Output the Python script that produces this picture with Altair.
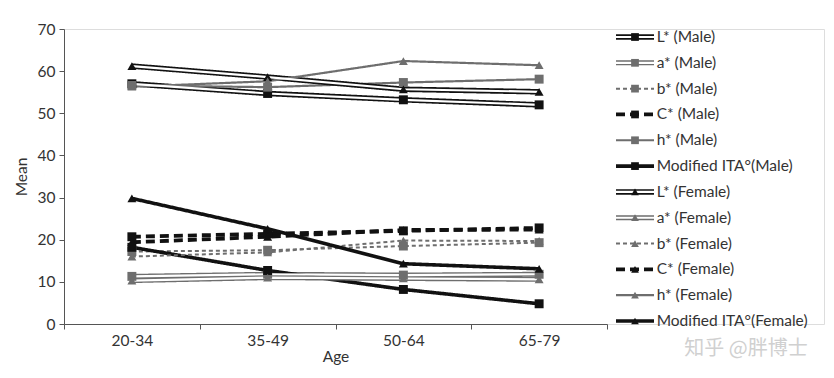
import altair as alt
import pandas as pd

ages = ["20-34", "35-49", "50-64", "65-79"]

series = ["L* (Male)", "a* (Male)", "b* (Male)", "C* (Male)", "h* (Male)", "Modified ITA°(Male)",
          "L* (Female)", "a* (Female)", "b* (Female)", "C* (Female)", "h* (Female)", "Modified ITA°(Female)"]
labels = ["L* (Male)", "a*  (Male)", "b* (Male)", "C* (Male)", "h* (Male)", "Modified ITA°(Male)",
          "L* (Female)", "a*  (Female)", "b* (Female)", "C* (Female)", "h* (Female)", "Modified ITA°(Female)"]

L_male = [57.0, 54.7, 53.2, 52.0]
a_male = [11.3, 11.8, 11.6, 11.8]
b_male = [17.2, 17.5, 18.5, 19.3]
C_male = [20.7, 21.4, 22.1, 22.8]
h_male = [56.6, 56.2, 57.3, 58.1]
ita_male = [18.2, 12.7, 8.2, 4.8]
L_female = [61.2, 58.6, 55.7, 55.1]
a_female = [10.3, 11.0, 10.8, 10.6]
b_female = [16.0, 17.0, 19.8, 19.7]
C_female = [19.4, 20.7, 22.3, 22.4]
h_female = [56.3, 57.6, 62.4, 61.4]
ita_female = [29.8, 22.6, 14.3, 13.1]

all_values = [L_male, a_male, b_male, C_male, h_male, ita_male,
              L_female, a_female, b_female, C_female, h_female, ita_female]

BLACK = "#111111"
GRAY = "#6e6e6e"
colors = [BLACK, GRAY, GRAY, BLACK, GRAY, BLACK] * 2
dashes = [[1, 0], [1, 0], [4, 3], [9, 5], [1, 0], [1, 0]] * 2
widths = [5.5, 5, 2, 3.8, 2.2, 3.6] * 2
shapes = ["square"] * 6 + ["triangle-up"] * 6
double_series = ["L* (Male)", "a* (Male)", "L* (Female)", "a* (Female)"]

rows = []
for s, vals in zip(series, all_values):
    for a, v in zip(ages, vals):
        rows.append({"series": s, "age": a, "value": v})
df = pd.DataFrame(rows)
leg = pd.DataFrame({"series": series, "label": labels})

FONT = "Lato"
TXT = "#333333"

color_sc = alt.Scale(type="ordinal", domain=series, range=colors)
dash_sc = alt.Scale(type="ordinal", domain=series, range=dashes)
width_sc = alt.Scale(type="ordinal", domain=series, range=widths)
shape_sc = alt.Scale(type="ordinal", domain=series, range=shapes)

PLOT_W = 543
xs = alt.Scale(domain=ages, range=[0, PLOT_W], paddingInner=0, paddingOuter=0)
ys = alt.Scale(domain=[0, 70], nice=False)

x_enc = alt.X("age:N", scale=xs, sort=ages,
              axis=alt.Axis(title="Age", tickBand="extent", labelAngle=0, grid=False,
                            labelFont=FONT, labelFontSize=15.5, labelColor=TXT, labelPadding=4,
                            titleFont=FONT, titleFontSize=15.5, titleFontWeight="normal",
                            titleColor=TXT, titlePadding=1, domainColor="#555555",
                            tickColor="#555555", tickSize=5))
y_enc = alt.Y("value:Q", scale=ys,
              axis=alt.Axis(title="Mean", values=list(range(0, 71, 10)), grid=False,
                            labelFont=FONT, labelFontSize=15.5, labelColor=TXT, labelPadding=4,
                            titleFont=FONT, titleFontSize=15.5, titleFontWeight="normal",
                            titleColor=TXT, titlePadding=8, domainColor="#555555",
                            tickColor="#555555", tickSize=5))

base = alt.Chart(df)
lines = base.mark_line().encode(
    x=x_enc, y=y_enc,
    color=alt.Color("series:N", scale=color_sc, legend=None),
    strokeDash=alt.StrokeDash("series:N", scale=dash_sc, legend=None),
    strokeWidth=alt.StrokeWidth("series:N", scale=width_sc, legend=None),
    detail="series:N",
)
inner = base.transform_filter(
    alt.FieldOneOfPredicate(field="series", oneOf=double_series)
).mark_line(color="white", strokeWidth=2.2).encode(x=x_enc, y=y_enc, detail="series:N")
points = base.mark_point(filled=True, opacity=1, size=80).encode(
    x=x_enc, y=y_enc,
    color=alt.Color("series:N", scale=color_sc, legend=None),
    shape=alt.Shape("series:N", scale=shape_sc, legend=None),
)
main = alt.layer(lines, inner, points)

lx = alt.Scale(domain=[0, 1], range=[552, 590])
ly = alt.Scale(type="point", domain=series, range=[8, 292], padding=0)
lbase = alt.Chart(leg).transform_calculate(x0="0", x1="1", xm="0.5", xt="1.07")
leg_y = alt.Y("series:N", scale=ly, axis=None)
leg_rule = lbase.mark_rule().encode(
    x=alt.X("x0:Q", scale=lx, axis=None), x2="x1:Q", y=leg_y,
    color=alt.Color("series:N", scale=color_sc, legend=None),
    strokeDash=alt.StrokeDash("series:N", scale=dash_sc, legend=None),
    strokeWidth=alt.StrokeWidth("series:N", scale=width_sc, legend=None),
)
leg_inner = lbase.transform_filter(
    alt.FieldOneOfPredicate(field="series", oneOf=double_series)
).mark_rule(color="white", strokeWidth=2.2).encode(
    x=alt.X("x0:Q", scale=lx, axis=None), x2="x1:Q", y=leg_y)
leg_pt = lbase.mark_point(filled=True, opacity=1, size=60).encode(
    x=alt.X("xm:Q", scale=lx, axis=None), y=leg_y,
    color=alt.Color("series:N", scale=color_sc, legend=None),
    shape=alt.Shape("series:N", scale=shape_sc, legend=None),
)
leg_txt = lbase.mark_text(align="left", baseline="middle", font=FONT, fontSize=15.5, color=TXT).encode(
    x=alt.X("xt:Q", scale=lx, axis=None), y=leg_y, text="label:N")
legend = alt.layer(leg_rule, leg_inner, leg_pt, leg_txt)

watermark = alt.Chart(pd.DataFrame({"t": ["知乎 @胖博士"]})).mark_text(
    font="Noto Sans CJK SC", fontSize=20, color="#d0d0d0", align="center", baseline="middle"
).encode(x=alt.value(682), y=alt.value(320), text="t:N")

chart = alt.layer(main, legend, watermark).resolve_scale(
    x="independent", y="independent"
).properties(
    width=760, height=295,
    padding={"left": 14, "top": 22, "right": 5, "bottom": 5},
).configure_view(stroke=None).configure(background="white")

chart.save("out.html", embed_options={"renderer": "svg", "actions": False})
